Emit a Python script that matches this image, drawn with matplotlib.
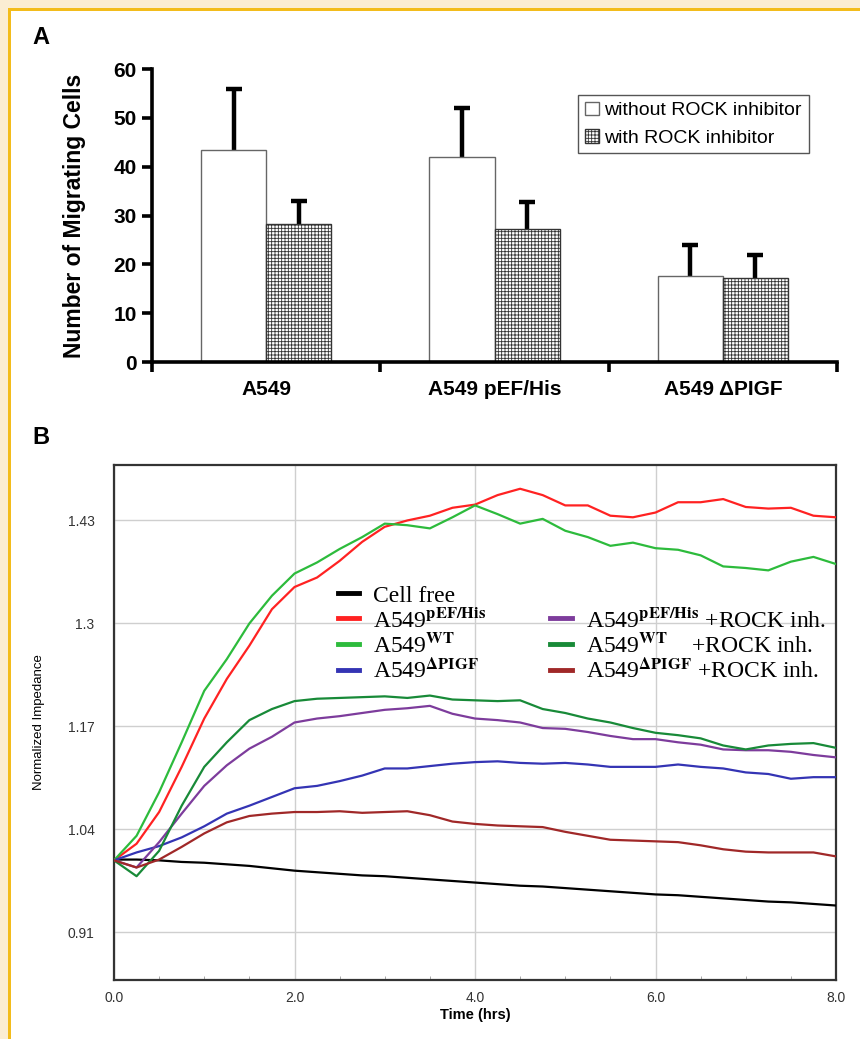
import matplotlib
matplotlib.use("Agg")
import matplotlib.pyplot as plt
from matplotlib.patches import Rectangle
from matplotlib.ticker import MultipleLocator
import numpy as np

plt.rcParams["font.family"] = ["Liberation Sans", "DejaVu Sans"]
plt.rcParams["mathtext.fontset"] = "stix"
plt.rcParams["hatch.linewidth"] = 0.6

# ---- panel A data ----
groups = ["A549", "A549 pEF/His", "A549 ΔPIGF"]
no_inhib = [43.5, 41.9, 17.7]
no_inhib_err = [12.5, 10.2, 6.3]
with_inhib = [28.2, 27.3, 17.3]
with_inhib_err = [4.8, 5.4, 4.7]

# ---- panel B data (normalized impedance vs time) ----
hours = [0.0, 0.25, 0.5, 0.75, 1.0, 1.25, 1.5, 1.75, 2.0, 2.25, 2.5, 2.75,
         3.0, 3.25, 3.5, 3.75, 4.0, 4.25, 4.5, 4.75, 5.0, 5.25, 5.5, 5.75,
         6.0, 6.25, 6.5, 6.75, 7.0, 7.25, 7.5, 7.75, 8.0]
cell_free = [1.002, 1.002, 1.001, 0.999, 0.998, 0.996, 0.994, 0.991, 0.988,
             0.986, 0.984, 0.982, 0.981, 0.979, 0.977, 0.975, 0.973, 0.971,
             0.969, 0.968, 0.966, 0.964, 0.962, 0.960, 0.958, 0.957, 0.955,
             0.953, 0.951, 0.949, 0.948, 0.946, 0.944]
pef_his = [1.001, 1.022, 1.062, 1.119, 1.180, 1.230, 1.272, 1.318, 1.346,
           1.358, 1.379, 1.403, 1.422, 1.430, 1.436, 1.446, 1.450, 1.462,
           1.470, 1.462, 1.449, 1.449, 1.436, 1.434, 1.440, 1.453, 1.453,
           1.457, 1.447, 1.445, 1.446, 1.436, 1.434]
wt = [1.001, 1.032, 1.087, 1.150, 1.215, 1.255, 1.300, 1.335, 1.363, 1.377,
      1.394, 1.409, 1.426, 1.424, 1.420, 1.434, 1.449, 1.438, 1.426, 1.432,
      1.417, 1.409, 1.398, 1.402, 1.395, 1.393, 1.386, 1.372, 1.370, 1.367,
      1.378, 1.384, 1.375]
dpigf = [1.001, 1.011, 1.019, 1.030, 1.044, 1.060, 1.070, 1.081, 1.092,
         1.095, 1.101, 1.108, 1.117, 1.117, 1.120, 1.123, 1.125, 1.126,
         1.124, 1.123, 1.124, 1.122, 1.119, 1.119, 1.119, 1.122, 1.119,
         1.117, 1.112, 1.110, 1.104, 1.106, 1.106]
pef_his_rock = [1.001, 0.992, 1.024, 1.060, 1.095, 1.121, 1.142, 1.157, 1.175,
                1.180, 1.183, 1.187, 1.191, 1.193, 1.196, 1.186, 1.180, 1.178,
                1.175, 1.168, 1.167, 1.163, 1.158, 1.154, 1.154, 1.150, 1.147,
                1.141, 1.140, 1.140, 1.138, 1.134, 1.131]
wt_rock = [1.001, 0.981, 1.013, 1.070, 1.119, 1.150, 1.178, 1.192, 1.202,
           1.205, 1.206, 1.207, 1.208, 1.206, 1.209, 1.204, 1.203, 1.202,
           1.203, 1.192, 1.187, 1.180, 1.175, 1.168, 1.162, 1.159, 1.155,
           1.146, 1.141, 1.146, 1.148, 1.149, 1.143]
dpigf_rock = [1.001, 0.992, 1.002, 1.018, 1.035, 1.049, 1.057, 1.060, 1.062,
              1.062, 1.063, 1.061, 1.062, 1.063, 1.058, 1.050, 1.047, 1.045,
              1.044, 1.043, 1.037, 1.032, 1.027, 1.026, 1.025, 1.024, 1.020,
              1.015, 1.012, 1.011, 1.011, 1.011, 1.006]

y_ticks = [0.91, 1.04, 1.17, 1.3, 1.43]
y_ticklabels = ["0.91", "1.04", "1.17", "1.3", "1.43"]
x_ticks = [0, 2, 4, 6, 8]
x_ticklabels = ["0.0", "2.0", "4.0", "6.0", "8.0"]

W, H = 860, 1039
fig = plt.figure(figsize=(W / 100, H / 100), dpi=100)
fig.patch.set_facecolor("#FBEDD3")
fig.patches.append(Rectangle((8 / W, 0), 1, 1 - 8 / H, transform=fig.transFigure,
                             facecolor="#F3BC1C", edgecolor="none", zorder=-10))
fig.patches.append(Rectangle((11 / W, 0), 1, 1 - 11 / H, transform=fig.transFigure,
                             facecolor="white", edgecolor="none", zorder=-9))

# ================= panel A =================
axA = fig.add_axes([152 / W, 1 - 362 / H, (837 - 152) / W, (362 - 69) / H])
x = np.arange(len(groups)) + 0.5
bw = 0.285
# error bars sit behind the bars, so only the upper half shows
axA.errorbar(x - bw / 2, no_inhib, yerr=no_inhib_err, fmt="none",
             ecolor="black", elinewidth=3.2, capsize=6, capthick=3.2, zorder=1)
axA.errorbar(x + bw / 2, with_inhib, yerr=with_inhib_err, fmt="none",
             ecolor="black", elinewidth=3.2, capsize=6, capthick=3.2, zorder=1)
axA.bar(x - bw / 2, no_inhib, bw, color="white", edgecolor="#666666",
        linewidth=1.0, label="without ROCK inhibitor", zorder=2)
axA.bar(x + bw / 2, with_inhib, bw, color="white", edgecolor="#333333",
        hatch="+++++", linewidth=1.0, label="with ROCK inhibitor", zorder=2)

axA.set_xlim(0, 3)
axA.set_ylim(0, 60)
axA.spines["top"].set_visible(False)
axA.spines["right"].set_visible(False)
for s in ("left", "bottom"):
    axA.spines[s].set_linewidth(2.6)
axA.set_yticks(range(0, 61, 10))
axA.set_xticks([0, 1, 2, 3])
axA.set_xticklabels([])
axA.set_xticks(x, minor=True)
axA.set_xticklabels(groups, minor=True, fontsize=15, fontweight="bold")
axA.tick_params(axis="x", which="minor", length=0, pad=13)
axA.tick_params(axis="both", which="major", direction="out", length=7, width=2.6)
axA.tick_params(axis="y", labelsize=15, pad=4)
for lb in axA.get_yticklabels():
    lb.set_fontweight("bold")
axA.set_ylabel("Number of Migrating Cells", fontsize=16.5, fontweight="bold",
               labelpad=20)
leg = axA.legend(loc="upper left", bbox_to_anchor=(0.608, 0.945), fontsize=14,
                 fancybox=False, edgecolor="#555555", framealpha=1,
                 handlelength=0.7, handleheight=0.7, handletextpad=0.3,
                 labelspacing=0.5, borderpad=0.35)
leg.get_frame().set_linewidth(1.0)
fig.text(32 / W, 1 - 38 / H, "A", fontsize=17, fontweight="bold", va="center")

# ================= panel B =================
axB = fig.add_axes([114 / W, 1 - 980 / H, 722 / W, 515 / H])
series = [
    (cell_free, "black", "Cell free"),
    (pef_his, "#FF2222", r"A549$^{\mathbf{pEF/His}}$"),
    (wt, "#2DBB3C", r"A549$^{\mathbf{WT}}$"),
    (dpigf, "#3434B4", r"A549$^{\mathbf{\Delta PIGF}}$"),
    (pef_his_rock, "#7D3C9C", r"A549$^{\mathbf{pEF/His}}$ +ROCK inh."),
    (wt_rock, "#188A38", r"A549$^{\mathbf{WT}}$    +ROCK inh."),
    (dpigf_rock, "#A02828", r"A549$^{\mathbf{\Delta PIGF}}$ +ROCK inh."),
]
handles = []
for vals, col, lab in series:
    ln, = axB.plot(hours, vals, color=col, lw=1.6, label=lab, zorder=3)
    handles.append(ln)
blank, = axB.plot([], [], color="none", label=" ")
handles.insert(4, blank)

axB.set_xlim(0, 8)
axB.set_ylim(0.85, 1.5)
axB.set_xticks(x_ticks)
axB.set_xticklabels(x_ticklabels)
axB.set_yticks(y_ticks)
axB.set_yticklabels(y_ticklabels)
axB.xaxis.set_minor_locator(MultipleLocator(0.5))
axB.grid(True, which="major", color="#cfcfcf", lw=1.0, zorder=0)
axB.tick_params(axis="both", which="major", length=0, labelsize=10,
                labelcolor="#333333")
axB.tick_params(axis="y", pad=14)
axB.tick_params(axis="x", pad=8)
axB.tick_params(axis="x", which="minor", direction="in", length=3, color="#999999")
for sp in axB.spines.values():
    sp.set_linewidth(1.6)
    sp.set_color("#333333")
axB.set_xlabel("Time (hrs)", fontsize=10.5, fontweight="bold", labelpad=2)
axB.set_ylabel("Normalized Impedance", fontsize=9.5, labelpad=16,
               family=["Liberation Sans Narrow", "Liberation Sans", "DejaVu Sans"])

legB = fig.legend(handles=handles, labels=[h.get_label() for h in handles],
                  loc="upper left", bbox_to_anchor=(338 / W, 1 - 585 / H),
                  ncol=2, frameon=False, prop={"family": "Liberation Serif", "size": 17},
                  handlelength=0.9, handletextpad=0.6, columnspacing=2.7,
                  labelspacing=0.05, borderpad=0, borderaxespad=0)
for ln in legB.get_lines():
    ln.set_linewidth(3.5)
fig.text(32 / W, 1 - 438 / H, "B", fontsize=17, fontweight="bold", va="center")

fig.savefig("out.png", dpi=100)
